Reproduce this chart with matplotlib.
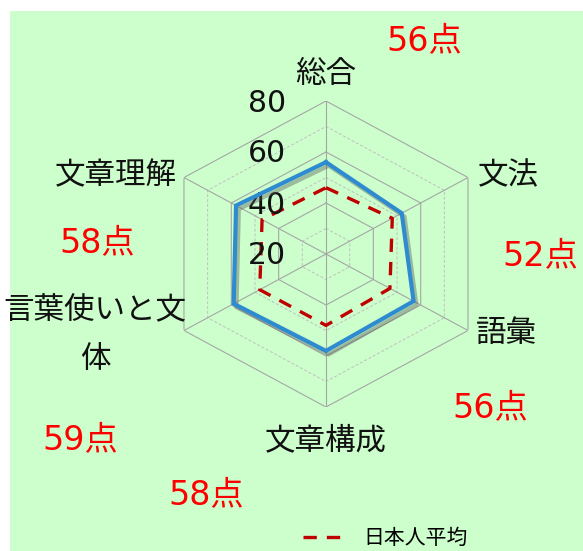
import matplotlib
matplotlib.use('Agg')
import matplotlib.pyplot as plt
import matplotlib.patheffects as pe
from matplotlib.patches import Rectangle
from matplotlib.transforms import offset_copy
import numpy as np

plt.rcParams['font.family'] = ['Noto Sans CJK JP', 'DejaVu Sans']
num_font = ['DejaVu Sans', 'Noto Sans CJK JP']

# data
categories = ['総合', '文法', '語彙', '文章構成', '言葉使いと文\n体', '文章理解']
my_score = [56, 52, 57, 58, 59, 58]
jp_average = [46, 48, 47, 48, 48, 47]
score_labels = ['56点', '52点', '56点', '58点', '59点', '58点']
r_ticks = [20, 40, 60, 80]
r_minor = [30, 50, 70]

# figure size in pixels
W, H = 583, 551
fig = plt.figure(figsize=(W / 100, H / 100), dpi=100, facecolor='white')
fig.patches.append(Rectangle((10 / W, 0), 1, (H - 11) / H, transform=fig.transFigure,
                             facecolor='#ccffcc', edgecolor='none', zorder=-10))

# radar area (pixels: x 162..490, y 101..407)
ax = fig.add_axes([162 / W, 1 - 407 / H, 328 / W, 306 / H], projection='polar')
ax.set_aspect('auto')
ax.patch.set_alpha(0)
ax.set_theta_zero_location('N')
ax.set_theta_direction(-1)
ax.set_ylim(20, 80)
ax.grid(False)
ax.spines['polar'].set_visible(False)
ax.set_xticks([])
ax.set_yticks([])

theta = np.linspace(0, 2 * np.pi, len(categories), endpoint=False)
theta_c = np.append(theta, theta[0])

# hexagonal grid
for r in r_ticks[1:]:
    ax.plot(theta_c, [r] * len(theta_c), color='#a6a6a6', lw=0.8, zorder=1)
for r in r_minor:
    ax.plot(theta_c, [r] * len(theta_c), color='#bfbfbf', lw=0.7, ls=(0, (3, 2)), zorder=1)
for t in theta:
    ax.plot([t, t], [20, 80], color='#a6a6a6', lw=0.8, zorder=1)

# series
ax.plot(theta_c, my_score + my_score[:1], color='#2e8bd0', lw=3, zorder=4,
        solid_joinstyle='miter',
        path_effects=[pe.SimpleLineShadow(offset=(2, -2.5), shadow_color='#555555', alpha=0.4),
                      pe.Normal()])
avg_line, = ax.plot(theta_c, jp_average + jp_average[:1], color='#c00000', lw=2.4,
                    dashes=(4, 3), zorder=3, label='日本人平均')

# radial tick labels along the top spoke
tick_tr = offset_copy(ax.transData, fig=fig, x=-59, y=-2, units='dots')
for v in r_ticks:
    ax.text(0, v, str(v), transform=tick_tr, ha='center', va='center', fontsize=21.5,
            color='#111111', family=num_font)

# category labels
cat_pos = [(326, 75), (508, 176), (506, 334), (326, 441), (95, 335), (116, 176)]
for name, (px, py) in zip(categories, cat_pos):
    fig.text(px / W, 1 - py / H, name, ha='center', va='center', fontsize=22,
             color='#111111', linespacing=1.72)

# score boxes
score_pos = [(424, 41), (540, 256), (490, 408), (206, 495), (80, 440), (97, 243)]
for s, (px, py) in zip(score_labels, score_pos):
    fig.text(px / W, 1 - py / H, s, ha='center', va='center', fontsize=24,
             color='#ff0000', family=num_font)

fig.legend(handles=[avg_line], loc='center', bbox_to_anchor=(385 / W, 1 - 538 / H),
           frameon=False, fontsize=15, handlelength=2.0, handletextpad=0.9)

fig.savefig('out.png', dpi=100, facecolor=fig.get_facecolor())
